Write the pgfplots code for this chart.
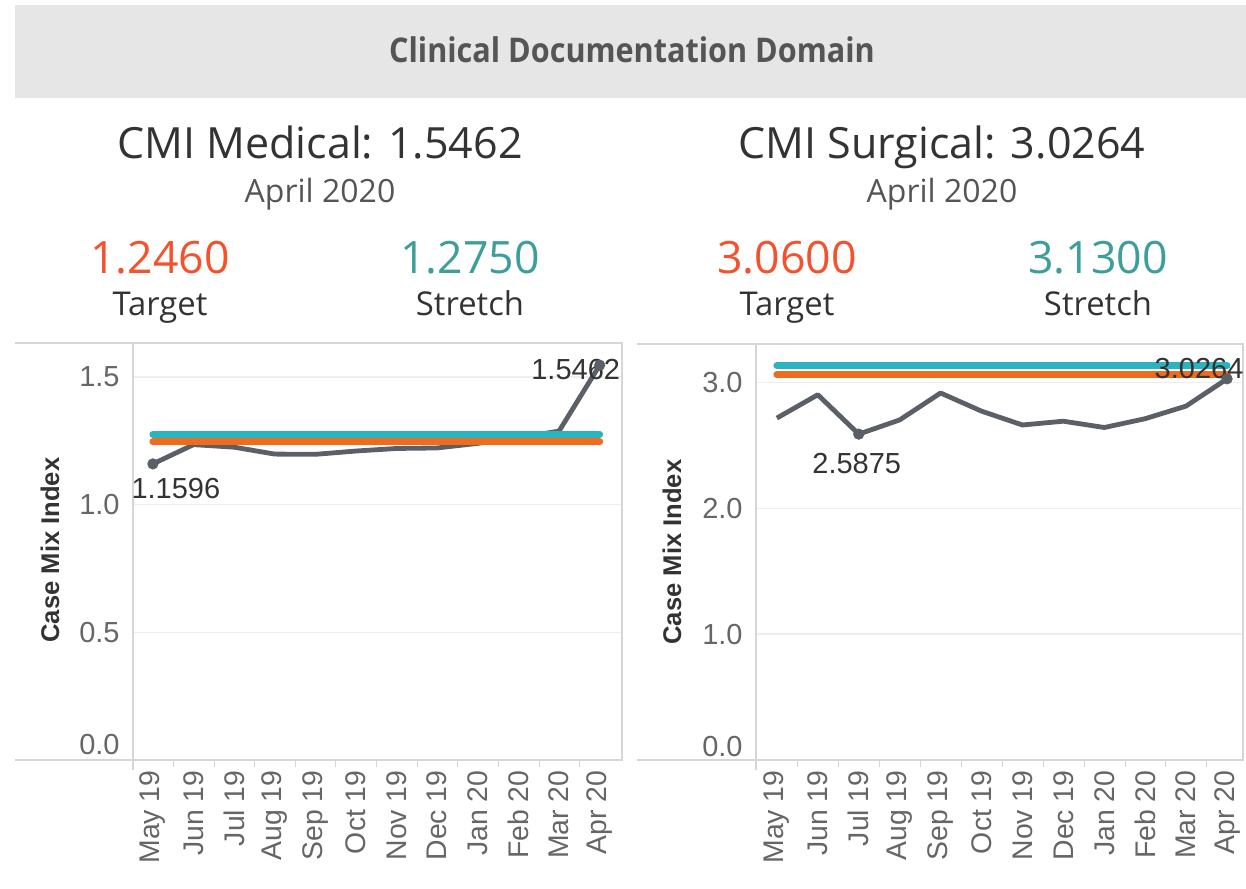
\documentclass[border=0pt]{standalone}
\usepackage{pgfplots}
\pgfplotsset{compat=1.18}
\usepackage{fontspec}
\setmainfont{Open Sans}
\newfontfamily\arialf{Liberation Sans}
\definecolor{hdrbg}{HTML}{E6E6E6}
\definecolor{hdrtxt}{HTML}{555555}
\definecolor{titletxt}{HTML}{333333}
\definecolor{datetxt}{HTML}{555555}
\definecolor{targettxt}{HTML}{F4512C}
\definecolor{stretchtxt}{HTML}{3D9E9A}
\definecolor{tealline}{HTML}{2BB3BF}
\definecolor{orangeline}{HTML}{EF6B1E}
\definecolor{grayline}{HTML}{5B6068}
\definecolor{frame}{HTML}{D6D6D6}
\definecolor{gridc}{HTML}{EEEEEE}
\definecolor{ticktxt}{HTML}{666666}

\pgfplotstableread{
x y
0 1.1596
1 1.235
2 1.225
3 1.198
4 1.197
5 1.210
6 1.220
7 1.222
8 1.240
9 1.262
10 1.288
11 1.5462
}\medical
\pgfplotstableread{
x y
0 2.715
1 2.900
2 2.5875
3 2.700
4 2.914
5 2.770
6 2.660
7 2.690
8 2.640
9 2.710
10 2.810
11 3.0264
}\surgical

\tikzset{
  dlabel/.style={font=\arialf\fontsize{14.5}{16}\selectfont, text=titletxt, inner sep=0pt},
  cmiline/.style={draw=grayline, line width=2.4pt, line join=round},
  tgt/.style={draw=#1, line width=3.5pt, line cap=round},
  hd/.style={anchor=base, inner sep=0pt},
}
\pgfplotsset{
  cmi/.style={
    scale only axis,
    anchor=south west,
    axis line style={draw=frame, line width=0.6pt},
    xtick={0,...,11},
    xticklabels={May 19,Jun 19,Jul 19,Aug 19,Sep 19,Oct 19,Nov 19,Dec 19,Jan 20,Feb 20,Mar 20,Apr 20},
    xticklabel style={rotate=90, anchor=east, inner sep=0pt, xshift=1pt, font=\arialf\fontsize{14.2}{16}\selectfont, text=ticktxt},
    xticklabel shift=6pt,
    minor xtick={0.5,1.5,...,10.5},
    major tick length=0pt,
    minor tick length=3.5pt,
    tick align=outside,
    minor tick style={draw=frame},
    xtick pos=bottom, ytick pos=left,
    ymajorgrids, major grid style={draw=gridc, line width=0.6pt},
    yticklabel style={font=\arialf\fontsize{14.5}{16}\selectfont, text=ticktxt, inner sep=0pt},
    yticklabel shift=6.5pt,
    extra y tick style={grid=none, major tick length=0pt},
    clip=false,
  },
}

\begin{document}
\begin{tikzpicture}
\fill[white] (0,0) rectangle (623pt,-444pt);
\useasboundingbox (0,0) rectangle (623pt,-444pt);
% header
\fill[hdrbg] (7.5pt,-2.5pt) rectangle (623pt,-49pt);
\node[text=hdrtxt, font=\bfseries\fontsize{17}{20}\selectfont, xscale=0.9] at (316pt,-25pt) {Clinical Documentation Domain};

% left headings
\node[hd, text=titletxt, font=\fontsize{21.5}{24}\selectfont] at (160pt,-79pt) {CMI Medical: 1.5462};
\node[hd, text=datetxt, font=\fontsize{16}{19}\selectfont] at (160pt,-101pt) {April 2020};
\node[hd, text=targettxt, font=\fontsize{22.3}{25}\selectfont] at (80pt,-136.5pt) {1.2460};
\node[hd, text=titletxt, font=\fontsize{16.4}{19}\selectfont] at (80pt,-157.5pt) {Target};
\node[hd, text=stretchtxt, font=\fontsize{22.3}{25}\selectfont] at (235pt,-136.5pt) {1.2750};
\node[hd, text=titletxt, font=\fontsize{16.4}{19}\selectfont] at (235pt,-157.5pt) {Stretch};

% right headings
\node[hd, text=titletxt, font=\fontsize{21.5}{24}\selectfont] at (471pt,-79pt) {CMI Surgical: 3.0264};
\node[hd, text=datetxt, font=\fontsize{16}{19}\selectfont] at (471pt,-101pt) {April 2020};
\node[hd, text=targettxt, font=\fontsize{22.3}{25}\selectfont] at (393.5pt,-136.5pt) {3.0600};
\node[hd, text=titletxt, font=\fontsize{16.4}{19}\selectfont] at (393.5pt,-157.5pt) {Target};
\node[hd, text=stretchtxt, font=\fontsize{22.3}{25}\selectfont] at (549pt,-136.5pt) {3.1300};
\node[hd, text=titletxt, font=\fontsize{16.4}{19}\selectfont] at (549pt,-157.5pt) {Stretch};

% frame extensions
\draw[frame, line width=0.6pt] (7.5pt,-171.5pt) -- (66.5pt,-171.5pt);
\draw[frame, line width=0.6pt] (7.5pt,-380pt) -- (66.5pt,-380pt);
\draw[frame, line width=0.6pt] (66.5pt,-380pt) -- (66.5pt,-385pt);
\draw[frame, line width=0.6pt] (318.5pt,-172pt) -- (378pt,-172pt);
\draw[frame, line width=0.6pt] (318.5pt,-380pt) -- (378pt,-380pt);
\draw[frame, line width=0.6pt] (378pt,-380pt) -- (378pt,-385pt);

\node[rotate=90, text=titletxt, font=\arialf\bfseries\fontsize{12.8}{14}\selectfont] at (25pt,-275pt) {Case Mix Index};
\node[rotate=90, text=titletxt, font=\arialf\bfseries\fontsize{12.8}{14}\selectfont] at (336pt,-276pt) {Case Mix Index};

% left axis
\begin{axis}[cmi, at={(66.5pt,-380pt)}, width=244.5pt, height=208.5pt,
  xmin=-0.49, xmax=11.55, ymin=0, ymax=1.633,
  ytick={0.5,1,1.5}, yticklabels={0.5,1.0,1.5},
  extra y ticks={0.06}, extra y tick labels={0.0}]
\addplot[cmiline] table[x=x,y=y] {\medical};
\addplot[tgt=orangeline] coordinates {(0,1.246) (11,1.246)};
\addplot[tgt=tealline] coordinates {(0,1.275) (11,1.275)};
\addplot[only marks, mark=*, mark size=2.6pt, color=grayline] coordinates {(0,1.1596) (11,1.5462)};
\node[dlabel] at (axis cs:0,1.1596) [xshift=11.5pt, yshift=-12.5pt] {1.1596};
\node[dlabel] at (axis cs:11,1.5462) [xshift=-12pt, yshift=-2pt] {1.5462};
\end{axis}

% right axis
\begin{axis}[cmi, at={(378pt,-380pt)}, width=243.5pt, height=208pt,
  xmin=-0.51, xmax=11.39, ymin=0, ymax=3.303,
  ytick={1,2,3}, yticklabels={1.0,2.0,3.0},
  extra y ticks={0.11}, extra y tick labels={0.0}]
\addplot[cmiline] table[x=x,y=y] {\surgical};
\addplot[tgt=orangeline] coordinates {(0,3.06) (11,3.06)};
\addplot[tgt=tealline] coordinates {(0,3.13) (11,3.13)};
\addplot[only marks, mark=*, mark size=2.6pt, color=grayline] coordinates {(2,2.5875) (11,3.0264)};
\node[dlabel] at (axis cs:2,2.5875) [xshift=-1pt, yshift=-14.6pt] {2.5875};
\node[dlabel] at (axis cs:11,3.0264) [xshift=-14pt, yshift=5.3pt] {3.0264};
\end{axis}
\end{tikzpicture}
\end{document}
